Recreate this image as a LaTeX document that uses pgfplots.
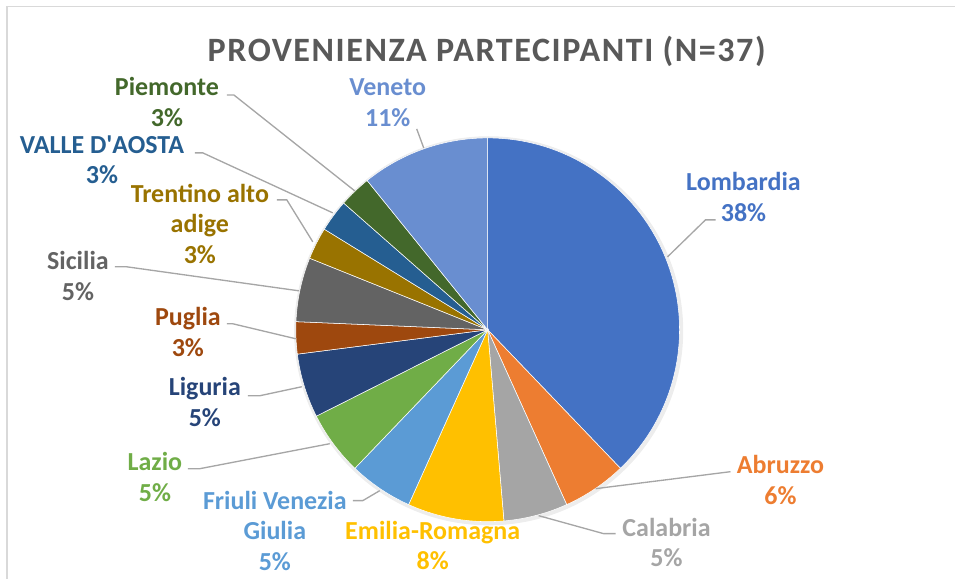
\documentclass[border=0pt]{standalone}
\usepackage{pgfplots}
\usepackage{pgfplotstable}
\pgfplotsset{compat=1.18}
\usepackage{fontspec}
\setmainfont{Carlito}
\newfontfamily\titlefont[LetterSpace=4.5]{Carlito}
\newfontfamily\nomapfont{Carlito}
\definecolor{s0}{HTML}{4472C4}
\definecolor{s1}{HTML}{ED7D31}
\definecolor{s2}{HTML}{A5A5A5}
\definecolor{s3}{HTML}{FFC000}
\definecolor{s4}{HTML}{5B9BD5}
\definecolor{s5}{HTML}{70AD47}
\definecolor{s6}{HTML}{264478}
\definecolor{s7}{HTML}{9E480E}
\definecolor{s8}{HTML}{636363}
\definecolor{s9}{HTML}{997300}
\definecolor{s10}{HTML}{255E91}
\definecolor{s11}{HTML}{43682B}
\definecolor{s12}{HTML}{698ED0}
\definecolor{titlecol}{HTML}{595959}
\definecolor{leadcol}{HTML}{A6A6A6}
\definecolor{framecol}{HTML}{D9D9D9}
% counts (N=37) in clockwise order from 12 o'clock, with cumulative counts
\pgfplotstableread{
n cum
14 14
2 16
2 18
3 21
2 23
2 25
2 27
1 28
2 30
1 31
1 32
1 33
4 37
}\piedata
\tikzset{lab/.style={font=\bfseries\fontsize{19.5}{23}\selectfont, align=center, inner sep=0pt, anchor=center},
  leader/.style={draw=leadcol, line width=1pt}}
\begin{document}
\begin{tikzpicture}
\begin{axis}[width=717pt,height=434.25pt,scale only axis,
  xmin=0,xmax=956,ymin=0,ymax=579,y dir=reverse,hide axis,clip=false]
\path (axis cs:0,0) rectangle (axis cs:956,579);
\draw[framecol, line width=1pt] (axis cs:7,579) -- (axis cs:7,6.5) -- (axis cs:956,6.5);
\fill[black, opacity=0.07] (axis cs:489,331) circle[radius=146pt];
\pgfplotsinvokeforeach{0,...,12}{
  \pgfplotstablegetelem{#1}{n}\of\piedata \let\pieN\pgfplotsretval
  \pgfplotstablegetelem{#1}{cum}\of\piedata \let\pieC\pgfplotsretval
  \pgfmathsetmacro\aS{90-360*(\pieC-\pieN)/37}
  \pgfmathsetmacro\aE{90-360*\pieC/37}
  \edef\tmp{\noexpand\fill[fill=s#1,draw=white,line width=0.4pt] (axis cs:488,330) -- ++(\aS:144pt) arc[start angle=\aS,end angle=\aE,radius=144pt] -- cycle;}
  \tmp
}
% title
\node[font=\titlefont\bfseries\fontsize{25.6}{30}\selectfont, text=titlecol, inner sep=0pt, anchor=base] at (axis cs:487,62) {PROVENIENZA PARTECIPANTI (N=37)};
% leader lines
\draw[leader] (axis cs:227,95) -- (axis cs:234,95) -- (axis cs:355,191);
\draw[leader] (axis cs:195,153) -- (axis cs:203,153) -- (axis cs:333,213);
\draw[leader] (axis cs:277,200) -- (axis cs:287,200) -- (axis cs:313,242);
\draw[leader] (axis cs:115,267) -- (axis cs:127,267) -- (axis cs:299,291);
\draw[leader] (axis cs:417,129) -- (axis cs:424,148);
\draw[leader] (axis cs:716,220) -- (axis cs:706,220) -- (axis cs:668,257);
\draw[leader] (axis cs:227,324) -- (axis cs:233,324) -- (axis cs:296,339);
\draw[leader] (axis cs:248,396) -- (axis cs:260,396) -- (axis cs:302,387);
\draw[leader] (axis cs:188,469) -- (axis cs:200,469) -- (axis cs:330,444);
\draw[leader] (axis cs:353,501) -- (axis cs:363,501) -- (axis cs:380,491);
\draw[leader] (axis cs:616,534) -- (axis cs:604,534) -- (axis cs:539,516);
\draw[leader] (axis cs:731,472) -- (axis cs:596,489);
% labels
\node[lab, text=s0] at (axis cs:744,197) {Lombardia\\38\%};
\node[lab, text=s1] at (axis cs:781,480) {Abruzzo\\6\%};
\node[lab, text=s2] at (axis cs:667,543) {Calabria\\5\%};
\node[lab, text=s3] at (axis cs:433,546) {Emilia-Romagna\\8\%};
\node[lab, text=s4] at (axis cs:275,531) {Friuli Venezia\\Giulia\\5\%};
\node[lab, text=s5] at (axis cs:155,477) {Lazio\\5\%};
\node[lab, text=s6] at (axis cs:205,402) {Liguria\\5\%};
\node[lab, text=s7] at (axis cs:188,332) {Puglia\\3\%};
\node[lab, text=s8] at (axis cs:78,276) {Sicilia\\5\%};
\node[lab, text=s9] at (axis cs:200,224) {Trentino alto\\adige\\3\%};
\node[lab, text=s10] at (axis cs:102,160) {VALLE D{\nomapfont\bfseries '}AOSTA\\3\%};
\node[lab, text=s11] at (axis cs:167,102) {Piemonte\\3\%};
\node[lab, text=s12] at (axis cs:388,103) {Veneto\\11\%};
\end{axis}
\end{tikzpicture}
\end{document}
